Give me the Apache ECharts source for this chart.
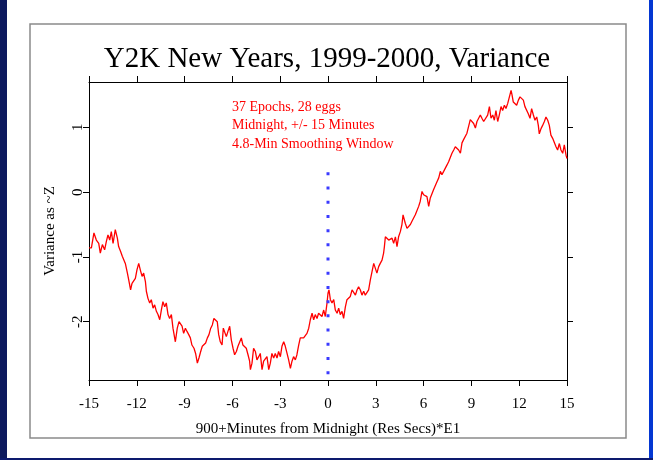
<!DOCTYPE html>
<html><head><meta charset="utf-8">
<script src="https://cdn.jsdelivr.net/npm/echarts@6/dist/echarts.min.js"></script>
<style>html,body{margin:0;padding:0;background:#fff}#c{width:653px;height:460px}</style>
</head><body><div id="c"></div>
<script>
// ---- data (minutes from midnight, variance as ~Z) ----
const xTicks = [-15, -12, -9, -6, -3, 0, 3, 6, 9, 12, 15];
const yTicks = [-2, -1, 0, 1];
const segA = [[-15,-0.86],[-14.85,-0.86],[-14.69,-0.63],[-14.54,-0.74],[-14.39,-0.79],[-14.29,-0.94],[-14.16,-0.81],[-14.02,-0.89],[-13.91,-0.76],[-13.81,-0.66],[-13.70,-0.74],[-13.60,-0.61],[-13.49,-0.79],[-13.35,-0.58],[-13.22,-0.71],[-13.14,-0.84],[-13.01,-0.92],[-12.91,-0.99],[-12.80,-0.97],[-12.72,-1.10],[-12.59,-1.25],[-12.51,-1.35],[-12.39,-1.51],[-12.30,-1.41],[-12.20,-1.43],[-12.09,-1.33],[-11.99,-1.20],[-11.88,-1.10],[-11.78,-1.20],[-11.67,-1.30],[-11.57,-1.25],[-11.46,-1.38],[-11.40,-1.53],[-11.30,-1.64],[-11.19,-1.71],[-11.09,-1.66],[-10.98,-1.79],[-10.88,-1.74],[-10.77,-1.84],[-10.67,-1.89],[-10.56,-1.97],[-10.46,-1.82],[-10.36,-1.69],[-10.25,-1.77],[-10.15,-1.71],[-10.04,-1.89],[-9.94,-1.95]];
const segB = [[-9.83,-1.89],[-9.73,-2.10],[-9.58,-2.31],[-9.46,-2.10],[-9.35,-2.00],[-9.25,-1.97],[-9.16,-2.07],[-9.06,-2.18],[-8.95,-2.10],[-8.85,-2.15],[-8.74,-2.20],[-8.64,-2.25],[-8.54,-2.36],[-8.41,-2.41],[-8.31,-2.49],[-8.20,-2.64],[-8.10,-2.56],[-7.99,-2.46],[-7.89,-2.38],[-7.78,-2.41],[-7.68,-2.33],[-7.57,-2.25],[-7.47,-2.20],[-7.36,-2.10],[-7.26,-2.05],[-7.16,-1.95],[-7.05,-1.92],[-6.95,-2.00],[-6.86,-2.20],[-6.76,-2.31],[-6.65,-2.36],[-6.57,-2.10],[-6.49,-2.07],[-6.38,-2.23],[-6.28,-2.15],[-6.17,-2.07],[-6.07,-2.28],[-5.96,-2.41],[-5.86,-2.51],[-5.75,-2.46],[-5.65,-2.38],[-5.54,-2.41],[-5.44,-2.25],[-5.34,-2.36],[-5.23,-2.33],[-5.13,-2.41],[-5.02,-2.51],[-4.92,-2.61]];
const segC = [[-4.87,-2.74],[-4.77,-2.64],[-4.67,-2.41],[-4.56,-2.46],[-4.46,-2.59],[-4.35,-2.54],[-4.25,-2.49],[-4.14,-2.74],[-4.04,-2.61],[-3.93,-2.64],[-3.83,-2.54],[-3.72,-2.74],[-3.62,-2.64],[-3.52,-2.49],[-3.41,-2.56],[-3.31,-2.49],[-3.20,-2.56],[-3.10,-2.46],[-2.99,-2.54],[-2.89,-2.38],[-2.78,-2.31],[-2.68,-2.38],[-2.57,-2.49],[-2.47,-2.59],[-2.36,-2.72],[-2.26,-2.61],[-2.16,-2.54],[-2.05,-2.59],[-1.95,-2.51],[-1.84,-2.36],[-1.74,-2.25],[-1.63,-2.28],[-1.53,-2.25],[-1.42,-2.23],[-1.32,-2.18],[-1.21,-2.10],[-1.11,-1.97],[-1.00,-1.87],[-0.90,-1.97],[-0.80,-1.89],[-0.69,-1.95],[-0.59,-1.87],[-0.48,-1.84],[-0.38,-1.92],[-0.27,-1.82],[-0.17,-1.92],[-0.06,-1.71],[0.00,-1.56],[0.06,-1.51]];
const segD = [[0.15,-1.66],[0.25,-1.71],[0.36,-1.66],[0.46,-1.82],[0.57,-1.87],[0.67,-1.79],[0.77,-1.89],[0.88,-1.84],[0.98,-1.95],[1.09,-1.77],[1.19,-1.66],[1.30,-1.69],[1.40,-1.61],[1.51,-1.51],[1.61,-1.53],[1.72,-1.59],[1.82,-1.51],[1.92,-1.46],[2.03,-1.51],[2.13,-1.59],[2.24,-1.53],[2.34,-1.59],[2.45,-1.61],[2.55,-1.51],[2.66,-1.35],[2.76,-1.23],[2.87,-1.10],[2.97,-1.07],[3.07,-1.25],[3.18,-1.15],[3.28,-1.10],[3.39,-1.05],[3.49,-0.94],[3.54,-0.84],[3.60,-0.69],[3.70,-0.71],[3.81,-0.74],[3.91,-0.76],[4.02,-0.71],[4.12,-0.79],[4.23,-0.69],[4.33,-0.84],[4.43,-0.69],[4.54,-0.61],[4.64,-0.50],[4.71,-0.35],[4.85,-0.48],[4.96,-0.56],[5.06,-0.58]];
const segE = [[5.17,-0.50],[5.27,-0.45],[5.38,-0.43],[5.48,-0.35],[5.59,-0.32],[5.69,-0.22],[5.79,-0.14],[5.90,0.01],[6.00,-0.04],[6.11,-0.04],[6.21,-0.07],[6.32,-0.22],[6.42,-0.09],[6.53,-0.07],[6.63,0.04],[6.74,0.01],[6.84,0.16],[6.95,0.22],[7.05,0.32],[7.15,0.27],[7.26,0.32],[7.36,0.34],[7.47,0.42],[7.57,0.47],[7.68,0.50],[7.78,0.60],[7.89,0.65],[7.99,0.70],[8.10,0.68],[8.20,0.65],[8.31,0.60],[8.41,0.76],[8.51,0.81],[8.62,0.83],[8.72,0.91],[8.83,0.88],[8.93,1.12],[9.04,1.09],[9.14,1.06],[9.25,0.99],[9.35,1.09],[9.46,1.12],[9.56,1.19],[9.66,1.14],[9.77,1.09],[9.87,1.12]];
const segF = [[10.02,1.19],[10.13,1.32],[10.23,1.14],[10.34,1.19],[10.44,1.11],[10.54,1.26],[10.65,1.09],[10.75,1.19],[10.86,1.32],[10.96,1.26],[11.07,1.34],[11.17,1.29],[11.28,1.37],[11.38,1.39],[11.49,1.57],[11.55,1.50],[11.63,1.39],[11.74,1.42],[11.84,1.34],[11.95,1.42],[12.05,1.47],[12.16,1.50],[12.26,1.42],[12.36,1.32],[12.47,1.29],[12.57,1.21],[12.68,1.14],[12.78,1.29],[12.89,1.19],[12.99,1.11],[13.10,1.16],[13.20,1.03],[13.26,0.90],[13.37,0.98],[13.47,1.03],[13.58,1.09],[13.68,1.16],[13.79,1.11],[13.89,1.03],[13.99,0.88],[14.10,0.83],[14.21,0.80],[14.31,0.70],[14.41,0.65],[14.52,0.75],[14.62,0.65],[14.73,0.60],[14.83,0.73],[14.94,0.57],[15.00,0.52]];
const midnightMarker = [[0, 0.305], [0, -2.9]];
const notes = ['37 Epochs, 28 eggs', 'Midnight, +/- 15 Minutes', '4.8-Min Smoothing Window'];
const titleText = 'Y2K New Years, 1999-2000, Variance';
const xName = '900+Minutes from Midnight (Res Secs)*E1';
const yName = 'Variance as ~Z';

const serif = '"Liberation Serif","DejaVu Serif",serif';
const curve = [].concat(segA, segB, segC, segD, segE, segF);
const chart = echarts.init(document.getElementById('c'), null, {renderer: 'canvas'});

const lineBlack = {color: '#000', width: 1};
const noteEls = notes.map((t, i) => ({
  type: 'text', x: 232, y: 107 + i * 18.5,
  style: {text: t, font: '14px ' + serif, fill: '#ff0000', align: 'left', verticalAlign: 'middle', textAlign: 'left', textVerticalAlign: 'middle'}
}));

chart.setOption({
  animation: false,
  backgroundColor: '#ffffff',
  title: {
    text: titleText, left: 322, top: 40, textAlign: 'center',
    textStyle: {fontFamily: serif, fontSize: 29, fontWeight: 'normal', color: '#000'}
  },
  graphic: [
    {type: 'rect', shape: {x: 0, y: 0, width: 7, height: 460}, style: {fill: '#0d1a5e'}, silent: true},
    {type: 'rect', shape: {x: 649, y: 0, width: 4, height: 460}, style: {fill: '#0437d2'}, silent: true},
    {type: 'rect', shape: {x: 0, y: 458, width: 653, height: 2}, style: {fill: '#0d1a6e'}, silent: true},
    {type: 'rect', shape: {x: 30, y: 24, width: 596, height: 414}, style: {fill: 'none', stroke: '#8a8a8a', lineWidth: 1.5}, silent: true}
  ].concat(noteEls),
  grid: {left: 89, right: 86, top: 82, bottom: 80},
  xAxis: [
    {
      type: 'value', min: -15, max: 15, interval: 3, position: 'bottom',
      axisLine: {onZero: false, lineStyle: lineBlack},
      axisTick: {length: 6, lineStyle: lineBlack},
      axisLabel: {margin: 17, fontFamily: serif, fontSize: 15, color: '#000', customValues: xTicks},
      splitLine: {show: false},
      name: xName, nameLocation: 'middle', nameGap: 42,
      nameTextStyle: {fontFamily: serif, fontSize: 15, color: '#000'}
    },
    {
      type: 'value', min: -15, max: 15, interval: 3, position: 'top',
      axisLine: {onZero: false, lineStyle: lineBlack},
      axisTick: {length: 6, lineStyle: lineBlack},
      axisLabel: {show: false}, splitLine: {show: false}
    }
  ],
  yAxis: [
    {
      type: 'value', min: -2.9, max: 1.7, position: 'left',
      axisLine: {onZero: false, lineStyle: lineBlack},
      axisTick: {length: 6, lineStyle: lineBlack, customValues: yTicks},
      axisLabel: {rotate: 90, margin: 3, fontFamily: serif, fontSize: 15, color: '#000', customValues: yTicks},
      splitLine: {show: false},
      name: yName, nameLocation: 'middle', nameGap: 31, nameRotate: 90,
      nameTextStyle: {fontFamily: serif, fontSize: 15, color: '#000'}
    },
    {
      type: 'value', min: -2.9, max: 1.7, position: 'right',
      axisLine: {onZero: false, lineStyle: lineBlack},
      axisTick: {length: 6, lineStyle: lineBlack, customValues: yTicks},
      axisLabel: {show: false}, splitLine: {show: false}
    }
  ],
  series: [
    {
      type: 'line', data: curve, showSymbol: false, symbol: 'none',
      lineStyle: {color: '#ff0000', width: 1.3}, z: 3
    },
    {
      type: 'line', data: midnightMarker, showSymbol: false, symbol: 'none',
      lineStyle: {color: '#3a3aff', width: 3, type: [3, 11.2], cap: 'butt'}, z: 4
    }
  ]
});
</script>
</body></html>
